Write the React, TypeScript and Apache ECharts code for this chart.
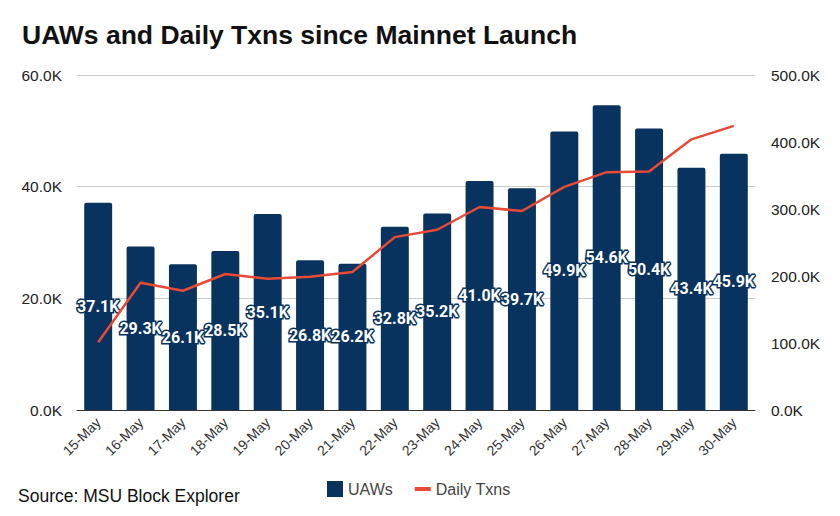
import React, { useEffect, useRef } from "react";
import * as echarts from "echarts";

const categories = ["15-May","16-May","17-May","18-May","19-May","20-May","21-May","22-May","23-May","24-May","25-May","26-May","27-May","28-May","29-May","30-May"];
const uaws = [37100,29300,26100,28500,35100,26800,26200,32800,35200,41000,39700,49900,54600,50400,43400,45900];
const dailyTxns = [101000,190000,178000,203000,196000,199000,206000,258000,269000,303000,297000,333000,355000,356000,404000,424000];

const fmtK = (v: number) => (v / 1000).toFixed(1) + "K";
const FONT = "Liberation Sans, Arial, sans-serif";

export default function App() {
  const ref = useRef<HTMLDivElement>(null);
  useEffect(() => {
    const chart = echarts.init(ref.current!, null, { renderer: "svg" });
    chart.setOption({
      animation: false,
      backgroundColor: "#ffffff",
      textStyle: { fontFamily: FONT },
      title: {
        text: "UAWs and Daily Txns since Mainnet Launch",
        left: 17,
        top: 16,
        textStyle: { fontSize: 26.5, fontWeight: "bold", color: "#111", fontFamily: FONT },
      },
      graphic: [
        {
          type: "text",
          left: 18,
          top: 487,
          style: { text: "Source: MSU Block Explorer", fontSize: 17.5, fill: "#111", fontFamily: FONT },
        },
      ],
      legend: {
        bottom: 14,
        left: 322,
        itemWidth: 16,
        itemHeight: 16,
        itemGap: 22,
        textStyle: { fontSize: 16, color: "#444", fontFamily: FONT },
        data: [
          { name: "UAWs", icon: "rect" },
          { name: "Daily Txns", icon: "path://M0,0 H16 V4 H0 Z" },
        ],
      },
      grid: { left: 77, right: 85, top: 75, bottom: 106 },
      xAxis: {
        type: "category",
        data: categories,
        axisLine: { lineStyle: { color: "#333", width: 1 } },
        axisTick: { show: false },
        axisLabel: { rotate: 45, fontSize: 14, color: "#333", margin: 10, fontFamily: FONT },
      },
      yAxis: [
        {
          type: "value",
          min: 0,
          max: 60000,
          interval: 20000,
          axisLabel: { formatter: fmtK, fontSize: 15.5, color: "#222", margin: 15, fontFamily: FONT },
          splitLine: { lineStyle: { color: "#cccccc" } },
          axisLine: { show: false },
          axisTick: { show: false },
        },
        {
          type: "value",
          min: 0,
          max: 500000,
          interval: 100000,
          axisLabel: { formatter: fmtK, fontSize: 15.5, color: "#222", margin: 16, fontFamily: FONT },
          splitLine: { show: false },
          axisLine: { show: false },
          axisTick: { show: false },
        },
      ],
      series: [
        {
          name: "UAWs",
          type: "bar",
          data: uaws,
          barWidth: "66%",
          itemStyle: { color: "#08335e", borderRadius: [2, 2, 0, 0] },
          label: {
            show: true,
            position: "inside",
            formatter: (p: any) => fmtK(p.value),
            color: "#ffffff",
            fontSize: 16,
            fontWeight: "bold",
            fontFamily: "Roboto, Liberation Sans, sans-serif",
            textBorderColor: "#08335e",
            textBorderWidth: 3,
          },
          z: 2,
        },
        {
          name: "Daily Txns",
          type: "line",
          yAxisIndex: 1,
          data: dailyTxns,
          symbol: "none",
          lineStyle: { color: "#e84a35", width: 2.5 },
          itemStyle: { color: "#e84a35" },
          z: 3,
        },
      ],
    });
    return () => chart.dispose();
  }, []);
  return (
    <div
      ref={ref}
      style={{ position: "fixed", left: 0, top: 0, width: 840, height: 516 }}
    />
  );
}
